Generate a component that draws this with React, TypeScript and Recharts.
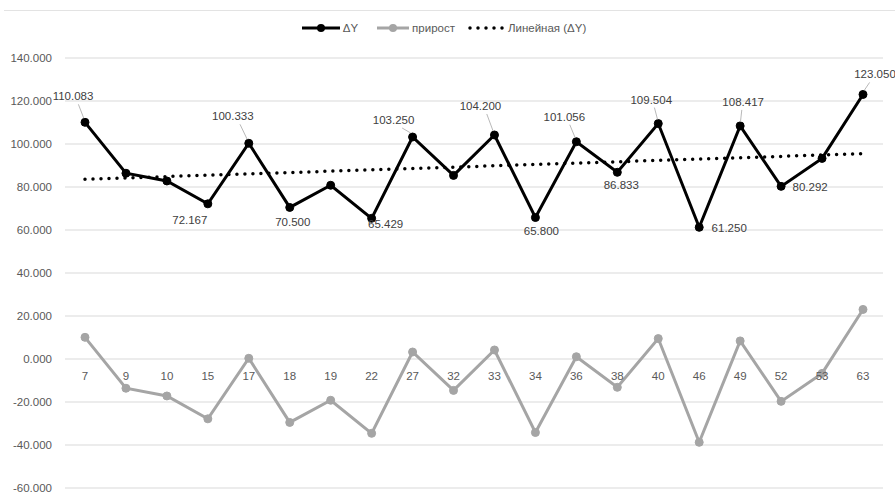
import React from 'react';
import { LineChart, Line, XAxis, YAxis, CartesianGrid, Legend, LabelList } from 'recharts';

const categories = ['7', '9', '10', '15', '17', '18', '19', '22', '27', '32', '33', '34', '36', '38', '40', '46', '49', '52', '53', '63'];
const deltaY = [110.083, 86.4, 82.8, 72.167, 100.333, 70.5, 80.8, 65.429, 103.25, 85.4, 104.2, 65.8, 101.056, 86.833, 109.504, 61.25, 108.417, 80.292, 93.3, 123.05];
const prirost = [10.083, -13.6, -17.2, -27.833, 0.333, -29.5, -19.2, -34.571, 3.25, -14.6, 4.2, -34.2, 1.056, -13.167, 9.504, -38.75, 8.417, -19.708, -6.7, 23.05];
const trendEnds = [83.6, 95.5];
const yTicks = [-60, -40, -20, 0, 20, 40, 60, 80, 100, 120, 140];
const labelledCategories = ['7', '15', '17', '18', '22', '27', '33', '34', '36', '38', '40', '46', '49', '52', '63'];

// label placement (style only): offset of label centre from point, and whether a leader line is drawn
const labelPlacement: Record<string, { dx: number; dy: number; leader: boolean }> = {
  '7': { dx: -12, dy: -26, leader: true },
  '15': { dx: -18, dy: 16, leader: false },
  '17': { dx: -16, dy: -27, leader: true },
  '18': { dx: 3, dy: 15, leader: false },
  '22': { dx: 14, dy: 6, leader: false },
  '27': { dx: -19, dy: -17, leader: true },
  '33': { dx: -14, dy: -29, leader: true },
  '34': { dx: 6, dy: 13, leader: false },
  '36': { dx: -12, dy: -25, leader: true },
  '38': { dx: 4, dy: 13, leader: false },
  '40': { dx: -7, dy: -24, leader: true },
  '46': { dx: 30, dy: 1, leader: false },
  '49': { dx: 3, dy: -24, leader: true },
  '52': { dx: 29, dy: 1, leader: false },
  '63': { dx: 12, dy: -20, leader: true },
};

const data = categories.map((c, i) => ({
  cat: c,
  dy: deltaY[i],
  pr: prirost[i],
  trend: i === 0 ? trendEnds[0] : i === categories.length - 1 ? trendEnds[1] : null,
}));

const FONT = "'Liberation Sans', Arial, sans-serif";

const DeltaLabel = (props: any) => {
  const { x, y, index } = props;
  const cat = categories[index];
  if (!labelledCategories.includes(cat)) return null;
  const p = labelPlacement[cat];
  const tx = x + p.dx;
  const ty = y + p.dy;
  return (
    <g>
      {p.leader && (
        <line x1={x + p.dx * 0.55} y1={ty + 8} x2={x + p.dx * 0.1} y2={y - 4} stroke="#a6a6a6" strokeWidth={0.8} />
      )}
      <text x={tx} y={ty} textAnchor="middle" dominantBaseline="central" fontSize={11.5} fill="#404040" fontFamily={FONT}>
        {deltaY[index].toFixed(3)}
      </text>
    </g>
  );
};

const CatLabel = (props: any) => {
  const { x, y, index } = props;
  return (
    <text x={x} y={y + 17} textAnchor="middle" dominantBaseline="central" fontSize={11.5} fill="#595959" fontFamily={FONT}>
      {categories[index]}
    </text>
  );
};

const LegendContent = () => (
  <div style={{ display: 'flex', justifyContent: 'center', alignItems: 'center', fontFamily: FONT, fontSize: 11.5, color: '#595959', height: 20 }}>
    <svg width={38} height={10} style={{ marginRight: 3 }}>
      <line x1={0} y1={5} x2={38} y2={5} stroke="#000" strokeWidth={3} />
      <circle cx={19} cy={5} r={4} fill="#000" />
    </svg>
    <span style={{ marginRight: 19 }}>ΔY</span>
    <svg width={32} height={10} style={{ marginRight: 3 }}>
      <line x1={0} y1={5} x2={32} y2={5} stroke="#a5a5a5" strokeWidth={3} />
      <circle cx={16} cy={5} r={4} fill="#a5a5a5" />
    </svg>
    <span style={{ marginRight: 13 }}>прирост</span>
    <svg width={38} height={10} style={{ marginRight: 2 }}>
      <line x1={2} y1={5} x2={38} y2={5} stroke="#000" strokeWidth={3.5} strokeDasharray="0 8" strokeLinecap="round" />
    </svg>
    <span>Линейная (ΔY)</span>
  </div>
);

export default function App() {
  return (
    <div style={{ position: 'absolute', left: 0, top: 0, width: 895, height: 495, background: '#fff' }}>
      <div style={{ position: 'absolute', left: 4, right: 0, top: 10, borderTop: '1px solid #e3e3e3' }} />
      <LineChart width={895} height={495} data={data} margin={{ top: 38, right: 12, bottom: 7, left: 5 }}>
        <CartesianGrid vertical={false} stroke="#d9d9d9" />
        <XAxis dataKey="cat" hide padding={{ left: 20, right: 20 }} />
        <YAxis
          domain={[-60, 140]}
          ticks={yTicks}
          interval={0}
          width={60}
          axisLine={false}
          tickLine={false}
          tickFormatter={(v: number) => v.toFixed(3)}
          tick={{ fontSize: 11.5, fill: '#595959', fontFamily: FONT }}
          tickMargin={7}
        />
        <Legend verticalAlign="top" height={20} wrapperStyle={{ top: 18 }} content={<LegendContent />} />
        <Line
          dataKey={() => 0}
          stroke="none"
          dot={false}
          activeDot={false}
          legendType="none"
          isAnimationActive={false}
        >
          <LabelList dataKey="cat" content={<CatLabel />} />
        </Line>
        <Line
          dataKey="pr"
          name="прирост"
          stroke="#a5a5a5"
          strokeWidth={3}
          dot={{ r: 4, fill: '#a5a5a5', stroke: '#a5a5a5', strokeWidth: 1 }}
          isAnimationActive={false}
        />
        <Line
          dataKey="trend"
          name="Линейная (ΔY)"
          stroke="#000"
          strokeWidth={3.5}
          strokeDasharray="0 8"
          strokeLinecap="round"
          connectNulls
          dot={false}
          isAnimationActive={false}
        />
        <Line
          dataKey="dy"
          name="ΔY"
          stroke="#000"
          strokeWidth={3}
          dot={{ r: 4, fill: '#000', stroke: '#000', strokeWidth: 1 }}
          isAnimationActive={false}
        >
          <LabelList dataKey="dy" content={<DeltaLabel />} />
        </Line>
      </LineChart>
    </div>
  );
}
